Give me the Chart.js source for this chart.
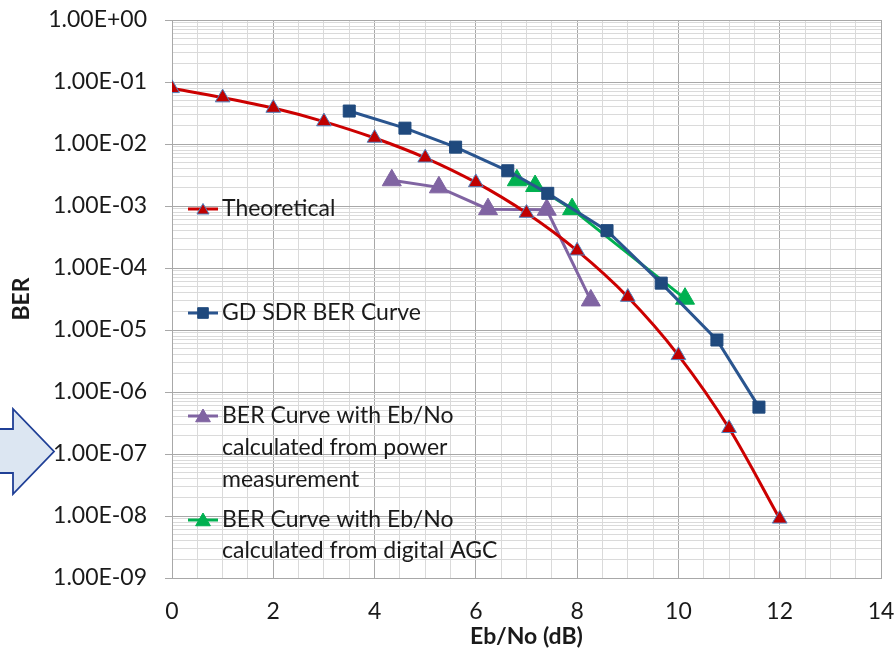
<!DOCTYPE html>
<html>
<head>
<meta charset="utf-8">
<script src="https://cdn.jsdelivr.net/npm/chart.js@4/dist/chart.umd.min.js"></script>
<style>
html,body{margin:0;padding:0;background:#fff;}
#wrap{width:895px;height:651px;position:relative;}
</style>
</head>
<body>
<div id="wrap"><canvas id="c" width="895" height="651"></canvas></div>
<script>
// ---- data ----
const theoX = [0, 1, 2, 3, 4, 5, 6, 7, 8, 9, 10, 11, 12];
const theoY = [7.9e-2, 5.6e-2, 3.8e-2, 2.3e-2, 1.25e-2, 6.0e-3, 2.4e-3, 7.7e-4, 1.9e-4, 3.4e-5, 3.9e-6, 2.6e-7, 9.0e-9];

const sdrX = [3.5, 4.6, 5.6, 6.63, 7.42, 8.59, 9.66, 10.76, 11.59];
const sdrY = [3.4e-2, 1.8e-2, 8.9e-3, 3.7e-3, 1.6e-3, 4.0e-4, 5.7e-5, 6.9e-6, 5.7e-7];

const powerX = [4.34, 5.27, 6.24, 7.4, 8.27];
const powerY = [2.6e-3, 2.0e-3, 8.9e-4, 8.7e-4, 3.0e-5];

const agcX = [6.81, 7.17, 7.9, 10.13];
const agcY = [2.6e-3, 2.1e-3, 8.9e-4, 3.2e-5];

const seriesNames = [
  ['Theoretical'],
  ['GD SDR BER Curve'],
  ['BER Curve with Eb/No', 'calculated from power', 'measurement'],
  ['BER Curve with Eb/No', 'calculated from digital AGC']
];

const yTickLabels = ['1.00E+00','1.00E-01','1.00E-02','1.00E-03','1.00E-04','1.00E-05','1.00E-06','1.00E-07','1.00E-08','1.00E-09'];
const xTickLabels = ['0','2','4','6','8','10','12','14'];
const xAxisTitle = 'Eb/No (dB)';
const yAxisTitle = 'BER';

// ---- helpers ----
const pts = (xs, ys) => xs.map((x, i) => ({x: x, y: ys[i]}));
const isDecade = v => { const l = Math.log10(v); return Math.abs(l - Math.round(l)) < 1e-6; };
const FONT = 'Lato, "Open Sans", sans-serif';
const TXT = '#1a1a1a';
const GRID_MAJOR = '#a8a8a8';
const GRID_MINOR = '#dadada';

const legendPos = [
  {y: [209]},
  {y: [313]},
  {y: [416, 448, 480]},
  {y: [520, 551]}
];
const legendMarkers = [
  {style: 'triangle', r: 7},
  {style: 'rect', r: 7.5},
  {style: 'triangle', r: 8.5},
  {style: 'triangle', r: 8.5}
];

const legendPlugin = {
  id: 'customLegend',
  afterDraw(chart) {
    const ctx = chart.ctx;
    ctx.save();
    chart.data.datasets.forEach((ds, i) => {
      const ys = legendPos[i].y;
      const y0 = ys[0];
      ctx.strokeStyle = ds.borderColor;
      ctx.lineWidth = 3;
      ctx.beginPath();
      ctx.moveTo(188, y0);
      ctx.lineTo(218, y0);
      ctx.stroke();
      const m = legendMarkers[i];
      ctx.fillStyle = ds.pointBackgroundColor;
      ctx.strokeStyle = ds.pointBorderColor;
      ctx.lineWidth = ds.pointBorderWidth;
      Chart.helpers.drawPoint(ctx, {pointStyle: m.style, radius: m.r, borderWidth: ds.pointBorderWidth, rotation: 0}, 203, y0 + (m.style === 'triangle' ? 1.5 : 0));
      ctx.fillStyle = TXT;
      ctx.font = '23px ' + FONT;
      ctx.textAlign = 'left';
      ctx.textBaseline = 'middle';
      seriesNames[i].forEach((t, k) => ctx.fillText(t, 222, ys[k]));
    });
    ctx.restore();
  }
};

const arrowPlugin = {
  id: 'arrowShape',
  afterDraw(chart) {
    const ctx = chart.ctx;
    ctx.save();
    ctx.beginPath();
    ctx.moveTo(-5, 429);
    ctx.lineTo(13, 429);
    ctx.lineTo(13, 409);
    ctx.lineTo(54, 451.5);
    ctx.lineTo(13, 494);
    ctx.lineTo(13, 473);
    ctx.lineTo(-5, 473);
    ctx.closePath();
    ctx.fillStyle = '#dce6f2';
    ctx.fill();
    ctx.strokeStyle = '#1f3f96';
    ctx.lineWidth = 1.8;
    ctx.stroke();
    ctx.restore();
  }
};

const bgPlugin = {
  id: 'bg',
  beforeDraw(chart) {
    const ctx = chart.ctx;
    ctx.save();
    ctx.fillStyle = '#fff';
    ctx.fillRect(0, 0, chart.width, chart.height);
    ctx.restore();
  }
};

new Chart(document.getElementById('c'), {
  type: 'line',
  data: {
    datasets: [
      {
        label: seriesNames[0].join(' '),
        data: pts(theoX, theoY),
        borderColor: '#cc0000',
        borderWidth: 3,
        tension: 0.3,
        pointStyle: 'triangle',
        pointRadius: 8.5,
        pointBackgroundColor: '#c00000',
        pointBorderColor: '#4f81bd',
        pointBorderWidth: 1
      },
      {
        label: seriesNames[1].join(' '),
        data: pts(sdrX, sdrY),
        borderColor: '#2a558f',
        borderWidth: 3,
        tension: 0,
        pointStyle: 'rect',
        pointRadius: 8.5,
        pointBackgroundColor: '#1f497d',
        pointBorderColor: '#1f497d',
        pointBorderWidth: 1
      },
      {
        label: seriesNames[2].join(' '),
        data: pts(powerX, powerY),
        borderColor: '#8064a2',
        borderWidth: 3,
        tension: 0,
        pointStyle: 'triangle',
        pointRadius: 11,
        pointBackgroundColor: '#8064a2',
        pointBorderColor: '#8064a2',
        pointBorderWidth: 1
      },
      {
        label: seriesNames[3].join(' '),
        data: pts(agcX, agcY),
        borderColor: '#00b050',
        borderWidth: 3,
        tension: 0,
        pointStyle: 'triangle',
        pointRadius: 11,
        pointBackgroundColor: '#00b050',
        pointBorderColor: '#00b050',
        pointBorderWidth: 1
      }
    ]
  },
  options: {
    responsive: false,
    animation: false,
    devicePixelRatio: 1,
    layout: {padding: {top: 20, right: 14, bottom: 0, left: 0}},
    plugins: {
      legend: {display: false},
      tooltip: {enabled: false},
      title: {display: false}
    },
    scales: {
      x: {
        type: 'linear',
        min: 0,
        max: 14,
        afterBuildTicks(scale) {
          const t = [];
          for (let v = 0; v <= 14; v += 0.5) t.push({value: v});
          scale.ticks = t;
        },
        afterFit(scale) {
          scale.height = 73;
          scale.paddingLeft = 0; scale.paddingRight = 0;
          scale.paddingTop = 0; scale.paddingBottom = 0;
        },
        ticks: {
          autoSkip: false,
          maxRotation: 0,
          padding: 20,
          color: TXT,
          font: {family: FONT, size: 23},
          callback: v => (Math.abs(v % 2) < 1e-9 ? xTickLabels[Math.round(v / 2)] : '')
        },
        grid: {
          drawTicks: false,
          color: ctx => (ctx.tick && Math.abs(ctx.tick.value % 2) < 1e-9 ? GRID_MAJOR : GRID_MINOR),
          lineWidth: 1
        },
        border: {display: true, color: GRID_MAJOR, width: 1},
        title: {
          display: true,
          text: xAxisTitle,
          color: TXT,
          font: {family: FONT, size: 23, weight: 'bold'},
          padding: {top: 0, bottom: 1}
        }
      },
      y: {
        type: 'logarithmic',
        min: 1e-9,
        max: 1,
        afterBuildTicks(scale) {
          const t = [];
          for (let e = -9; e <= 0; e++) {
            t.push({value: Math.pow(10, e), major: true});
            if (e < 0) for (let m = 2; m <= 9; m++) t.push({value: m * Math.pow(10, e)});
          }
          scale.ticks = t;
        },
        afterFit(scale) {
          scale.width = 172;
          scale.paddingLeft = 0; scale.paddingRight = 0;
          scale.paddingTop = 0; scale.paddingBottom = 0;
        },
        ticks: {
          autoSkip: false,
          padding: 18,
          color: TXT,
          font: {family: FONT, size: 23},
          callback: v => (isDecade(v) ? yTickLabels[-Math.round(Math.log10(v))] : '')
        },
        grid: {
          tickLength: 7,
          color: ctx => (ctx.tick && isDecade(ctx.tick.value) ? GRID_MAJOR : GRID_MINOR),
          tickColor: ctx => (ctx.tick && isDecade(ctx.tick.value) ? GRID_MAJOR : 'rgba(0,0,0,0)'),
          lineWidth: 1
        },
        border: {display: true, color: GRID_MAJOR, width: 1},
        title: {
          display: true,
          text: yAxisTitle,
          color: TXT,
          font: {family: FONT, size: 23, weight: 'bold'},
          padding: {top: 8, bottom: 0}
        }
      }
    }
  },
  plugins: [bgPlugin, legendPlugin, arrowPlugin]
});
</script>
</body>
</html>
